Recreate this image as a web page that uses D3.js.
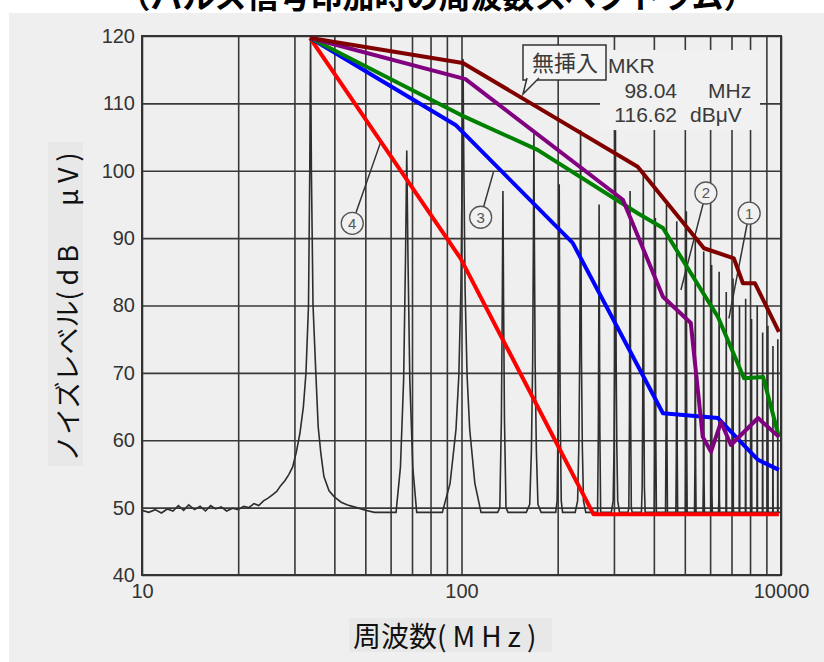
<!DOCTYPE html>
<html>
<head>
<meta charset="utf-8">
<script src="https://cdn.jsdelivr.net/npm/d3@7/dist/d3.min.js"></script>
<style>
  html, body { margin: 0; padding: 0; background: #fff; }
  svg { display: block; }
  .tick text { font-family: "Liberation Sans", Arial, sans-serif; font-size: 20px; fill: #333; }
  .grid .tick line { stroke: #383838; stroke-width: 1.6; }
</style>
</head>
<body>
<div id="chart"></div>
<script>
// axis ticks
const gridFreqs = [10, 20, 30, 40, 50, 60, 70, 80, 90, 100, 200, 300, 400, 500, 600, 700, 800, 900, 1000];
const xTickValues = [10, 100, 1000];
const xTickText = ['10', '100', '10000'];
const yTicks = [40, 50, 60, 70, 80, 90, 100, 110, 120];

// measured trace: noise floor + fundamental (MHz, dBuV)
const fundFreq = [10, 10.5, 11, 11.5, 12, 12.5, 13, 13.5, 14, 14.6, 15.2, 15.8, 16.4, 17, 17.7, 18.4, 19.2, 20,
  20.8, 21.6, 22.4, 23.2, 24, 24.8, 25.6, 26.4, 27.2, 28, 28.8, 29.6, 30.4, 31.2, 32, 32.6, 33.2, 33.5, 33.7,
  33.9, 34.3, 35, 35.6, 36.3, 37.1, 38.5, 40, 42, 44, 47, 50];
const fundLevel = [49.6, 49.3, 49.7, 49.2, 49.8, 49.5, 50.3, 49.6, 50.4, 49.7, 50.2, 49.5, 50.3, 49.8, 50.1, 49.5, 49.9, 49.7,
  50.2, 50.0, 50.6, 50.3, 51.0, 51.4, 51.9, 52.4, 53.3, 54.0, 54.9, 56.0, 58.2, 61, 65, 70, 80, 100, 120,
  100, 80, 70, 62, 58, 54.6, 52.5, 51.6, 50.8, 50.4, 50.0, 49.6];
const floorLevel = 49.3;

// harmonics of the pulse (MHz, peak dBuV)
const harmonicFreq = [67.4, 101.1, 134.8, 168.5, 202.2, 235.9, 269.6, 303.3, 337, 370.7, 404.4, 438.1, 471.8, 505.5,
  539.2, 572.9, 606.6, 640.3, 674, 707.7, 741.4, 775.1, 808.8, 842.5, 876.2, 909.9, 943.6, 977.3];
const harmonicPeak = [103, 116.6, 97, 105.5, 98, 106, 95, 106, 97, 100, 93, 95, 92.5, 94,
  90, 88, 86, 85, 82, 84, 80, 81, 78, 80, 76, 77, 74, 75];

// overlay curves
const noInsFreq = [33.6, 101, 356, 574, 712, 760, 829, 985];
const noInsLevel = [119.7, 116.0, 100.6, 88.5, 87.0, 83.3, 83.3, 76.1];
const purpleFreq = [33.6, 102.9, 320, 427, 522, 569, 604, 649, 697, 847, 985];
const purpleLevel = [119.7, 113.6, 95.7, 81.3, 77.4, 60.5, 58.3, 62.7, 59.3, 63.3, 60.5];
const greenFreq = [33.6, 99.3, 173, 356, 427, 635, 766, 879, 985];
const greenLevel = [119.7, 108.3, 103.1, 93.7, 91.5, 78.3, 69.2, 69.4, 60.5];
const blueFreq = [33.6, 95.8, 222.8, 427, 635, 847, 985];
const blueLevel = [119.7, 106.8, 89.3, 64.0, 63.3, 57.1, 55.6];
const redFreq = [33.6, 99.3, 259, 985];
const redLevel = [119.7, 87.0, 49.0, 49.0];

// circled labels: centre and pointer end (MHz, dBuV)
const markLabels = ['1', '2', '3', '4'];
const markFreq = [795, 582, 114.8, 45.5];
const markLevel = [93.7, 96.7, 93.1, 92.2];
const markToFreq = [687, 486, 125.9, 55.7];
const markToLevel = [78.1, 82.3, 99.8, 104.1];

const W = 824, H = 662;
const margin = { top: 36, right: 43, bottom: 87, left: 142 };
const x0 = margin.left, x1 = W - margin.right, y0 = margin.top, y1 = H - margin.bottom;

const svg = d3.select('#chart').append('svg').attr('width', W).attr('height', H);

svg.append('rect').attr('x', 9).attr('y', 13).attr('width', W - 9).attr('height', H - 13).attr('fill', '#efefef');

svg.append('text')
  .attr('x', 437).attr('y', 8)
  .attr('text-anchor', 'middle')
  .attr('font-family', '"Noto Sans CJK JP", sans-serif')
  .attr('font-weight', 700).attr('font-size', 32).attr('fill', '#000')
  .text('（パルス信号印加時の周波数スペクトラム）');

const x = d3.scaleLog().domain([10, 1000]).range([x0, x1]);
const y = d3.scaleLinear().domain([40, 120]).range([y1, y0]);

svg.append('g')
  .attr('class', 'grid')
  .attr('transform', `translate(0,${y1})`)
  .call(d3.axisBottom(x).tickValues(gridFreqs).tickSize(-(y1 - y0)).tickPadding(9)
    .tickFormat(d => { const i = xTickValues.indexOf(d); return i < 0 ? '' : xTickText[i]; }))
  .call(g => g.select('.domain').remove());

svg.append('g')
  .attr('class', 'grid')
  .attr('transform', `translate(${x0},0)`)
  .call(d3.axisLeft(y).tickValues(yTicks).tickSize(-(x1 - x0)).tickPadding(7))
  .call(g => g.select('.domain').remove());

// MKR readout background hides the grid behind it
svg.append('rect').attr('x', 600).attr('y', 50).attr('width', 160).attr('height', 80).attr('fill', '#f1f1f1');

svg.append('rect')
  .attr('x', x0).attr('y', y0).attr('width', x1 - x0).attr('height', y1 - y0)
  .attr('fill', 'none').attr('stroke', '#333').attr('stroke-width', 2);

svg.append('clipPath').attr('id', 'plot')
  .append('rect').attr('x', x0).attr('y', y0 - 2).attr('width', x1 - x0).attr('height', y1 - y0 + 2);

// spectrum trace
const skirtOffset = [0, 0.6, 1.5, 3, 5, 9, 14];
const skirtDrop = [0, 16, 34, 47, 55, 63, 71];
const trace = fundFreq.map((f, i) => [f, fundLevel[i]]);
harmonicFreq.forEach((f, i) => {
  const p = harmonicPeak[i];
  for (let k = skirtOffset.length - 1; k > 0; k--) trace.push([f - skirtOffset[k], Math.max(floorLevel, p - skirtDrop[k])]);
  trace.push([f, p]);
  for (let k = 1; k < skirtOffset.length; k++) trace.push([f + skirtOffset[k], Math.max(floorLevel, p - skirtDrop[k])]);
});
trace.push([1000, floorLevel]);

const line = d3.line().x(d => x(d[0])).y(d => y(d[1]));

svg.append('path')
  .datum(trace)
  .attr('clip-path', 'url(#plot)')
  .attr('fill', 'none').attr('stroke', '#2e2e2e').attr('stroke-width', 1.6)
  .attr('d', line);

// annotations from the original scan
const ann = svg.append('g');
ann.append('rect').attr('x', 523).attr('y', 45).attr('width', 83).attr('height', 35)
  .attr('fill', '#f4f4f4').attr('stroke', '#333').attr('stroke-width', 1.5);
ann.append('path').attr('d', 'M527,78 L523,94 L539,78')
  .attr('fill', '#f4f4f4').attr('stroke', '#333').attr('stroke-width', 1.5);
ann.append('text').attr('x', 565).attr('y', 71).attr('text-anchor', 'middle')
  .attr('font-family', '"Noto Sans CJK JP", sans-serif').attr('font-size', 22).attr('fill', '#3a3a3a')
  .text('無挿入');

const mkr = svg.append('g').attr('font-family', '"Liberation Sans", Arial, sans-serif')
  .attr('font-size', 21).attr('fill', '#3a3a3a');
mkr.append('text').attr('x', 608).attr('y', 73).text('MKR');
mkr.append('text').attr('x', 677).attr('y', 98).attr('text-anchor', 'end').text('98.04');
mkr.append('text').attr('x', 708).attr('y', 98).text('MHz');
mkr.append('text').attr('x', 677).attr('y', 122).attr('text-anchor', 'end').text('116.62');
mkr.append('text').attr('x', 690).attr('y', 122).text('dBμV');

markLabels.forEach((t, i) => {
  const cx = x(markFreq[i]), cy = y(markLevel[i]);
  const ex = x(markToFreq[i]), ey = y(markToLevel[i]);
  const len = Math.hypot(ex - cx, ey - cy), r = 11;
  ann.append('line')
    .attr('x1', cx + (ex - cx) / len * r).attr('y1', cy + (ey - cy) / len * r)
    .attr('x2', ex).attr('y2', ey)
    .attr('stroke', '#333').attr('stroke-width', 1.5);
  ann.append('circle').attr('cx', cx).attr('cy', cy).attr('r', r)
    .attr('fill', '#f1f1f1').attr('stroke', '#555').attr('stroke-width', 1.3);
  ann.append('text').attr('x', cx).attr('y', cy).attr('text-anchor', 'middle').attr('dy', '0.36em')
    .attr('font-family', '"Liberation Sans", Arial, sans-serif').attr('font-size', 15).attr('fill', '#555')
    .text(t);
});

// overlay curves
const curves = [
  { f: redFreq, v: redLevel, c: '#ff0000' },
  { f: blueFreq, v: blueLevel, c: '#0000ff' },
  { f: greenFreq, v: greenLevel, c: '#008000' },
  { f: purpleFreq, v: purpleLevel, c: '#800080' },
  { f: noInsFreq, v: noInsLevel, c: '#800000' }
];
curves.forEach(s => {
  svg.append('path')
    .datum(s.f.map((f, i) => [f, s.v[i]]))
    .attr('fill', 'none').attr('stroke', s.c).attr('stroke-width', 4)
    .attr('stroke-linejoin', 'round')
    .attr('d', line);
});

// axis titles
svg.append('rect').attr('x', 48).attr('y', 142).attr('width', 35).attr('height', 324).attr('fill', '#e8e8e8');
const yl = svg.append('text')
  .attr('transform', 'translate(66,304) rotate(-90)')
  .attr('text-anchor', 'middle').attr('dominant-baseline', 'central')
  .attr('font-family', '"Noto Sans CJK JP", sans-serif').attr('font-size', 27).attr('fill', '#111');
yl.append('tspan').text('ノイズレベル');
yl.append('tspan').attr('letter-spacing', 6).text('(dB　μV)');

svg.append('rect').attr('x', 349).attr('y', 618).attr('width', 203).attr('height', 34).attr('fill', '#e8e8e8');
const xl = svg.append('text')
  .attr('x', 353).attr('y', 635).attr('dominant-baseline', 'central')
  .attr('font-family', '"Noto Sans CJK JP", sans-serif').attr('font-size', 28).attr('fill', '#111');
xl.append('tspan').text('周波数');
xl.append('tspan').attr('letter-spacing', 6).text('(MHz)');
</script>
</body>
</html>
